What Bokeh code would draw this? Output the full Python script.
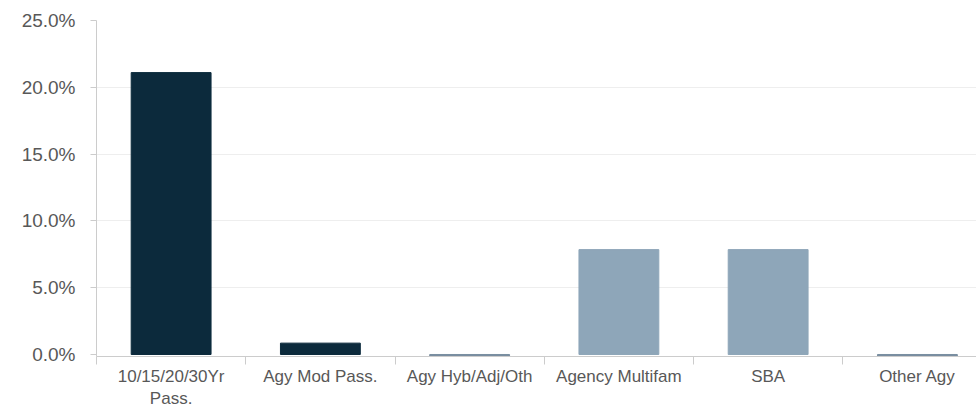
from bokeh.plotting import figure
from bokeh.models import Range1d, FixedTicker, ColumnDataSource
from bokeh.embed import file_html
from bokeh.resources import INLINE

categories = ["10/15/20/30Yr\nPass.", "Agy Mod Pass.", "Agy Hyb/Adj/Oth", "Agency Multifam", "SBA", "Other Agy"]
values = [21.1, 0.85, -0.12, 7.85, 7.85, -0.12]
colors = ["#0c2a3c", "#0c2a3c", "#7a8ea0", "#8ea6b9", "#8ea6b9", "#7a8ea0"]
y_ticks = [0, 5, 10, 15, 20, 25]

xs = list(range(len(categories)))
src = ColumnDataSource(dict(x=xs, top=values, color=colors))

p = figure(frame_width=880, frame_height=336, output_backend="svg", toolbar_location=None,
           x_range=Range1d(-0.5, 5.396), y_range=Range1d(-0.15, 25),
           min_border_left=96, min_border_right=0, min_border_top=20, min_border_bottom=50)
p.outline_line_color = None
p.background_fill_color = "white"

p.vbar(x="x", top="top", bottom=0, width=0.535, color="color", source=src)

font = "Liberation Sans"
lab_color = "#585858"
axis_color = "#cccccc"

xa = p.xaxis[0]
xa.ticker = FixedTicker(ticks=xs, minor_ticks=[i - 0.5 for i in range(len(categories) + 1)])
xa.major_label_overrides = {i: c for i, c in enumerate(categories)}
xa.major_tick_line_color = None
xa.major_tick_out = 0
xa.major_tick_in = 0
xa.minor_tick_line_color = axis_color
xa.minor_tick_out = 8
xa.minor_tick_in = 0
xa.axis_line_color = axis_color
xa.major_label_text_font = font
xa.major_label_text_font_size = "17px"
xa.major_label_text_color = lab_color
xa.major_label_standoff = 2

ya = p.yaxis[0]
ya.ticker = FixedTicker(ticks=y_ticks)
ya.major_label_overrides = {t: f"{t:.1f}%" for t in y_ticks}
ya.axis_line_color = axis_color
ya.major_tick_line_color = axis_color
ya.major_tick_out = 6
ya.major_tick_in = 0
ya.minor_tick_line_color = None
ya.major_label_text_font = font
ya.major_label_text_font_size = "19px"
ya.major_label_text_color = lab_color
ya.major_label_standoff = 15

p.xgrid.grid_line_color = None
p.ygrid.grid_line_color = "#eeeeee"
p.ygrid.ticker = FixedTicker(ticks=[5, 10, 15, 20, 25])

open("out.html", "w").write(file_html(p, INLINE))
